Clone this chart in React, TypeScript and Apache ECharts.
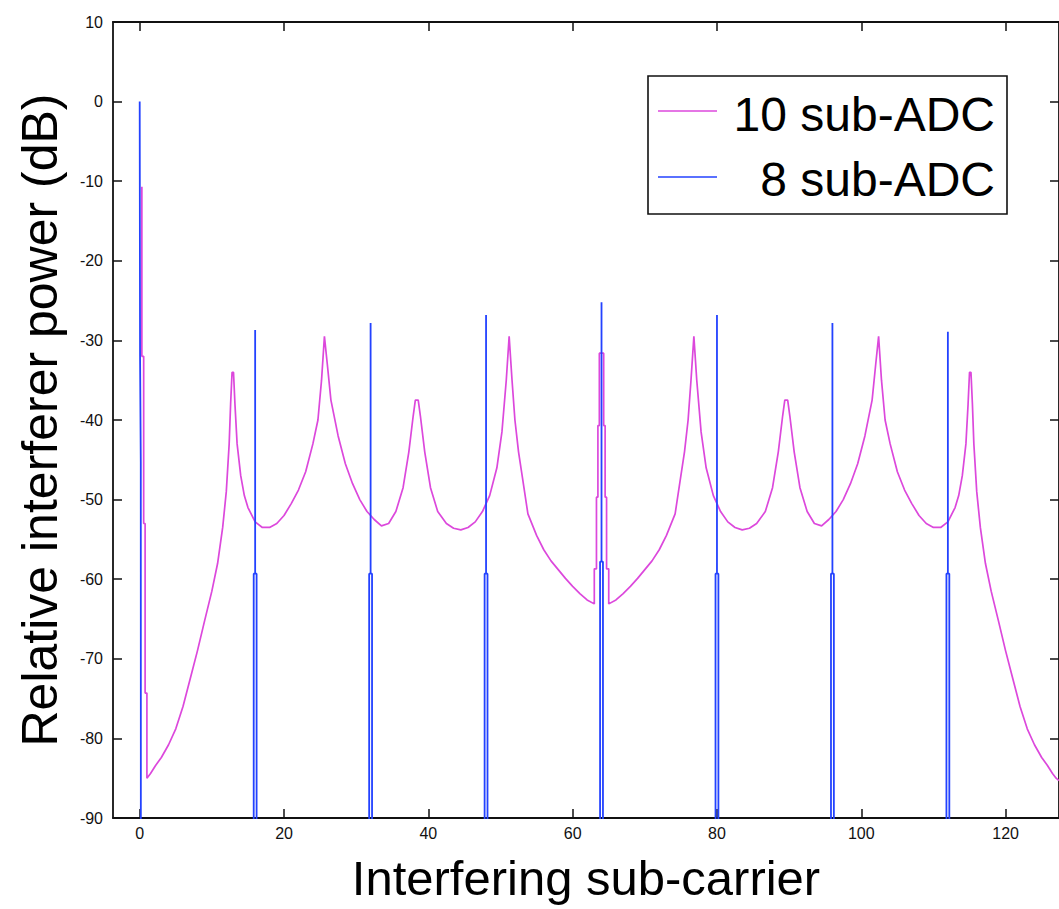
import React, { useEffect, useRef } from "react";
import * as echarts from "echarts";

// Tick values
const xTicks = [0, 20, 40, 60, 80, 100, 120];
const yMin = -90;
const yMax = 10;
const yStep = 10;

// "10 sub-ADC" curve: [sub-carrier, dB]
const tenSubAdc: [number, number][] = [
  [0.3, -10.7], [0.3, -32], [0.55, -32], [0.55, -53], [0.75, -53], [0.75, -74.3], [1.0, -74.3], [1.0, -85],
  [1.5, -84.4], [2.2, -83.4], [3, -82.4], [4, -80.8], [5, -78.8], [6, -76], [7, -72.5], [8, -69], [9, -65.2],
  [10, -61.5], [10.8, -58], [11.5, -53.5], [12, -49], [12.4, -43], [12.6, -38], [12.8, -34], [13.0, -34],
  [13.2, -38], [13.5, -43], [14, -47], [14.5, -49.5], [15, -51], [16, -52.8], [17, -53.5], [18, -53.5],
  [19, -53], [20, -52], [21, -50.5], [22, -48.8], [23, -46.5], [24, -43], [24.7, -40], [25.2, -35],
  [25.6, -29.5], [26, -33], [26.5, -37.5], [27.5, -42], [28.5, -45.5], [29.5, -48], [30.5, -50],
  [31.5, -51.5], [32.5, -52.5], [33.5, -53.3], [34.5, -53], [35.5, -51.5], [36.5, -48.5], [37.3, -44],
  [37.9, -39.5], [38.2, -37.5], [38.6, -37.5], [38.9, -39.5], [39.5, -44], [40.3, -48.5], [41.3, -51.5],
  [42.5, -53], [43.5, -53.6], [44.5, -53.8], [45.5, -53.5], [46.5, -52.8], [47.5, -51.5], [48.5, -49.5],
  [49.5, -46], [50.2, -41.5], [50.8, -35], [51.2, -29.5], [51.6, -35], [52, -40], [52.5, -44], [53, -47],
  [53.8, -51.8], [55, -54.5], [56, -56.3], [57, -57.7], [58, -58.8], [59, -59.9], [60, -60.9], [61, -61.8],
  [62, -62.6], [63.0, -63.1],
  [63.0, -58.7], [63.3, -58.7], [63.3, -49.7], [63.5, -49.7], [63.5, -40.7], [63.7, -40.7], [63.7, -31.6],
  [64.3, -31.6], [64.3, -40.7], [64.5, -40.7], [64.5, -49.7], [64.7, -49.7], [64.7, -58.7], [65.0, -58.7],
  [65.0, -63.1],
  [66, -62.6], [67, -61.8], [68, -60.9], [69, -59.9], [70, -58.8], [71, -57.7], [72, -56.3], [73, -54.5],
  [74.2, -51.8], [75, -47], [75.5, -44], [76, -40], [76.4, -35], [76.8, -29.5], [77.2, -35], [77.8, -41.5],
  [78.5, -46], [79.5, -49.5], [80.5, -51.5], [81.5, -52.8], [82.5, -53.5], [83.5, -53.8], [84.5, -53.6],
  [85.5, -53], [86.7, -51.5], [87.7, -48.5], [88.5, -44], [89.1, -39.5], [89.4, -37.5], [89.8, -37.5],
  [90.1, -39.5], [90.7, -44], [91.5, -48.5], [92.5, -51.5], [93.5, -53], [94.5, -53.3], [95.5, -52.5],
  [96.5, -51.5], [97.5, -50], [98.5, -48], [99.5, -45.5], [100.5, -42], [101.5, -37.5], [102, -33],
  [102.4, -29.5], [102.8, -35], [103.3, -40], [104, -43], [105, -46.5], [106, -48.8], [107, -50.5],
  [108, -52], [109, -53], [110, -53.5], [111, -53.5], [112, -52.8], [113, -51], [113.5, -49.5], [114, -47],
  [114.5, -43], [114.8, -38], [115, -34], [115.2, -34], [115.4, -38], [115.6, -43], [116, -49],
  [116.5, -53.5], [117.2, -58], [118, -61.5], [119, -65.2], [120, -69], [121, -72.5], [122, -76],
  [123, -78.8], [124, -80.8], [125, -82.4], [125.8, -83.4], [126.5, -84.4], [127, -85], [127.4, -85.3],
];

// "8 sub-ADC" spikes
const eightStart: [number, number][] = [[0, 0], [0.05, -32], [0.15, -45.3], [0.2, -300]];
const spikeCenters = [16, 32, 48, 64, 80, 96, 112];
const spikePeaks = [-28.7, -27.8, -26.8, -25.2, -26.8, -27.8, -28.9];
const spikeShoulders = [-59.3, -59.3, -59.3, -57.8, -59.3, -59.3, -59.3];
const floorDb = -300; // effectively -Inf, below the axis
const spikeHalfWidth = 0.2;

const seriesNames = ["10 sub-ADC", "8 sub-ADC"];
const colors = ["#dc48dc", "#2342ff"];

function buildEight(): [number, number][] {
  const out: [number, number][] = [...eightStart];
  spikeCenters.forEach((c, i) => {
    const sh = spikeShoulders[i];
    out.push([c - spikeHalfWidth, floorDb]);
    out.push([c - spikeHalfWidth, sh]);
    out.push([c, sh]);
    out.push([c, spikePeaks[i]]);
    out.push([c, sh]);
    out.push([c + spikeHalfWidth, sh]);
    out.push([c + spikeHalfWidth, floorDb]);
  });
  out.push([127.4, floorDb]);
  return out;
}

const FONT = "'Liberation Sans', Arial, Helvetica, sans-serif";
const TICK_FONT = "'Liberation Sans Narrow', 'Liberation Sans', Arial, sans-serif";

export default function App() {
  const ref = useRef<HTMLDivElement>(null);
  useEffect(() => {
    document.body.style.margin = "0";
    if (!ref.current) return;
    const chart = echarts.init(ref.current, undefined, { renderer: "svg" });
    const axisLine = { show: true, onZero: false, lineStyle: { color: "#111", width: 1.8 } };
    const tickStyle = { color: "#111", width: 1.5 };
    const xMin = -3.7;
    const xMax = 127.4;
    chart.setOption({
      animation: false,
      backgroundColor: "#fff",
      grid: { left: 113, top: 22, width: 953, height: 796 },
      xAxis: [
        {
          type: "value",
          position: "bottom",
          min: xMin,
          max: xMax,
          axisLine,
          axisTick: { show: true, inside: true, length: 9, customValues: xTicks, lineStyle: tickStyle },
          axisLabel: {
            customValues: xTicks,
            margin: 7,
            color: "#111",
            fontSize: 16,
            fontFamily: TICK_FONT,
          },
          splitLine: { show: false },
          name: "Interfering sub-carrier",
          nameLocation: "middle",
          nameGap: 35,
          nameMoveOverlap: false,
          nameTextStyle: { fontSize: 49, fontFamily: FONT, color: "#000" },
        },
        {
          type: "value",
          position: "top",
          min: xMin,
          max: xMax,
          axisLine,
          axisTick: { show: true, inside: true, length: 9, customValues: xTicks, lineStyle: tickStyle },
          axisLabel: { show: false },
          splitLine: { show: false },
        },
      ],
      yAxis: [
        {
          type: "value",
          position: "left",
          min: yMin,
          max: yMax,
          interval: yStep,
          axisLine,
          axisTick: { show: true, inside: true, length: 9, lineStyle: tickStyle },
          axisLabel: { margin: 10, color: "#111", fontSize: 16, fontFamily: TICK_FONT },
          splitLine: { show: false },
          name: "Relative interferer power (dB)",
          nameLocation: "middle",
          nameRotate: 90,
          nameGap: 48,
          nameTextStyle: { fontSize: 50, fontFamily: FONT, color: "#000" },
        },
        {
          type: "value",
          position: "right",
          min: yMin,
          max: yMax,
          interval: yStep,
          axisLine,
          axisTick: { show: true, inside: true, length: 9, lineStyle: tickStyle },
          axisLabel: { show: false },
          splitLine: { show: false },
        },
      ],
      series: [
        {
          name: seriesNames[0],
          type: "line",
          data: tenSubAdc,
          symbol: "none",
          clip: true,
          lineStyle: { color: colors[0], width: 1.7 },
          itemStyle: { color: colors[0] },
        },
        {
          name: seriesNames[1],
          type: "line",
          data: buildEight(),
          symbol: "none",
          clip: true,
          lineStyle: { color: colors[1], width: 1.8 },
          itemStyle: { color: colors[1] },
        },
      ],
      graphic: [
        {
          type: "rect",
          shape: { x: 648, y: 76, width: 359, height: 138 },
          style: { fill: "#fff", stroke: "#111", lineWidth: 1.6 },
          z: 100,
        },
        {
          type: "line",
          shape: { x1: 658, y1: 111, x2: 717, y2: 111 },
          style: { stroke: colors[0], lineWidth: 1.5 },
          z: 101,
        },
        {
          type: "line",
          shape: { x1: 658, y1: 177, x2: 717, y2: 177 },
          style: { stroke: colors[1], lineWidth: 1.5 },
          z: 101,
        },
        {
          type: "text",
          x: 995,
          y: 114,
          style: {
            text: seriesNames[0],
            fontSize: 48,
            fontFamily: FONT,
            fill: "#000",
            align: "right",
            verticalAlign: "middle",
          },
          z: 101,
        },
        {
          type: "text",
          x: 995,
          y: 179,
          style: {
            text: seriesNames[1],
            fontSize: 48,
            fontFamily: FONT,
            fill: "#000",
            align: "right",
            verticalAlign: "middle",
          },
          z: 101,
        },
      ],
    });
    return () => chart.dispose();
  }, []);
  return <div ref={ref} style={{ width: 1059, height: 909 }} />;
}
